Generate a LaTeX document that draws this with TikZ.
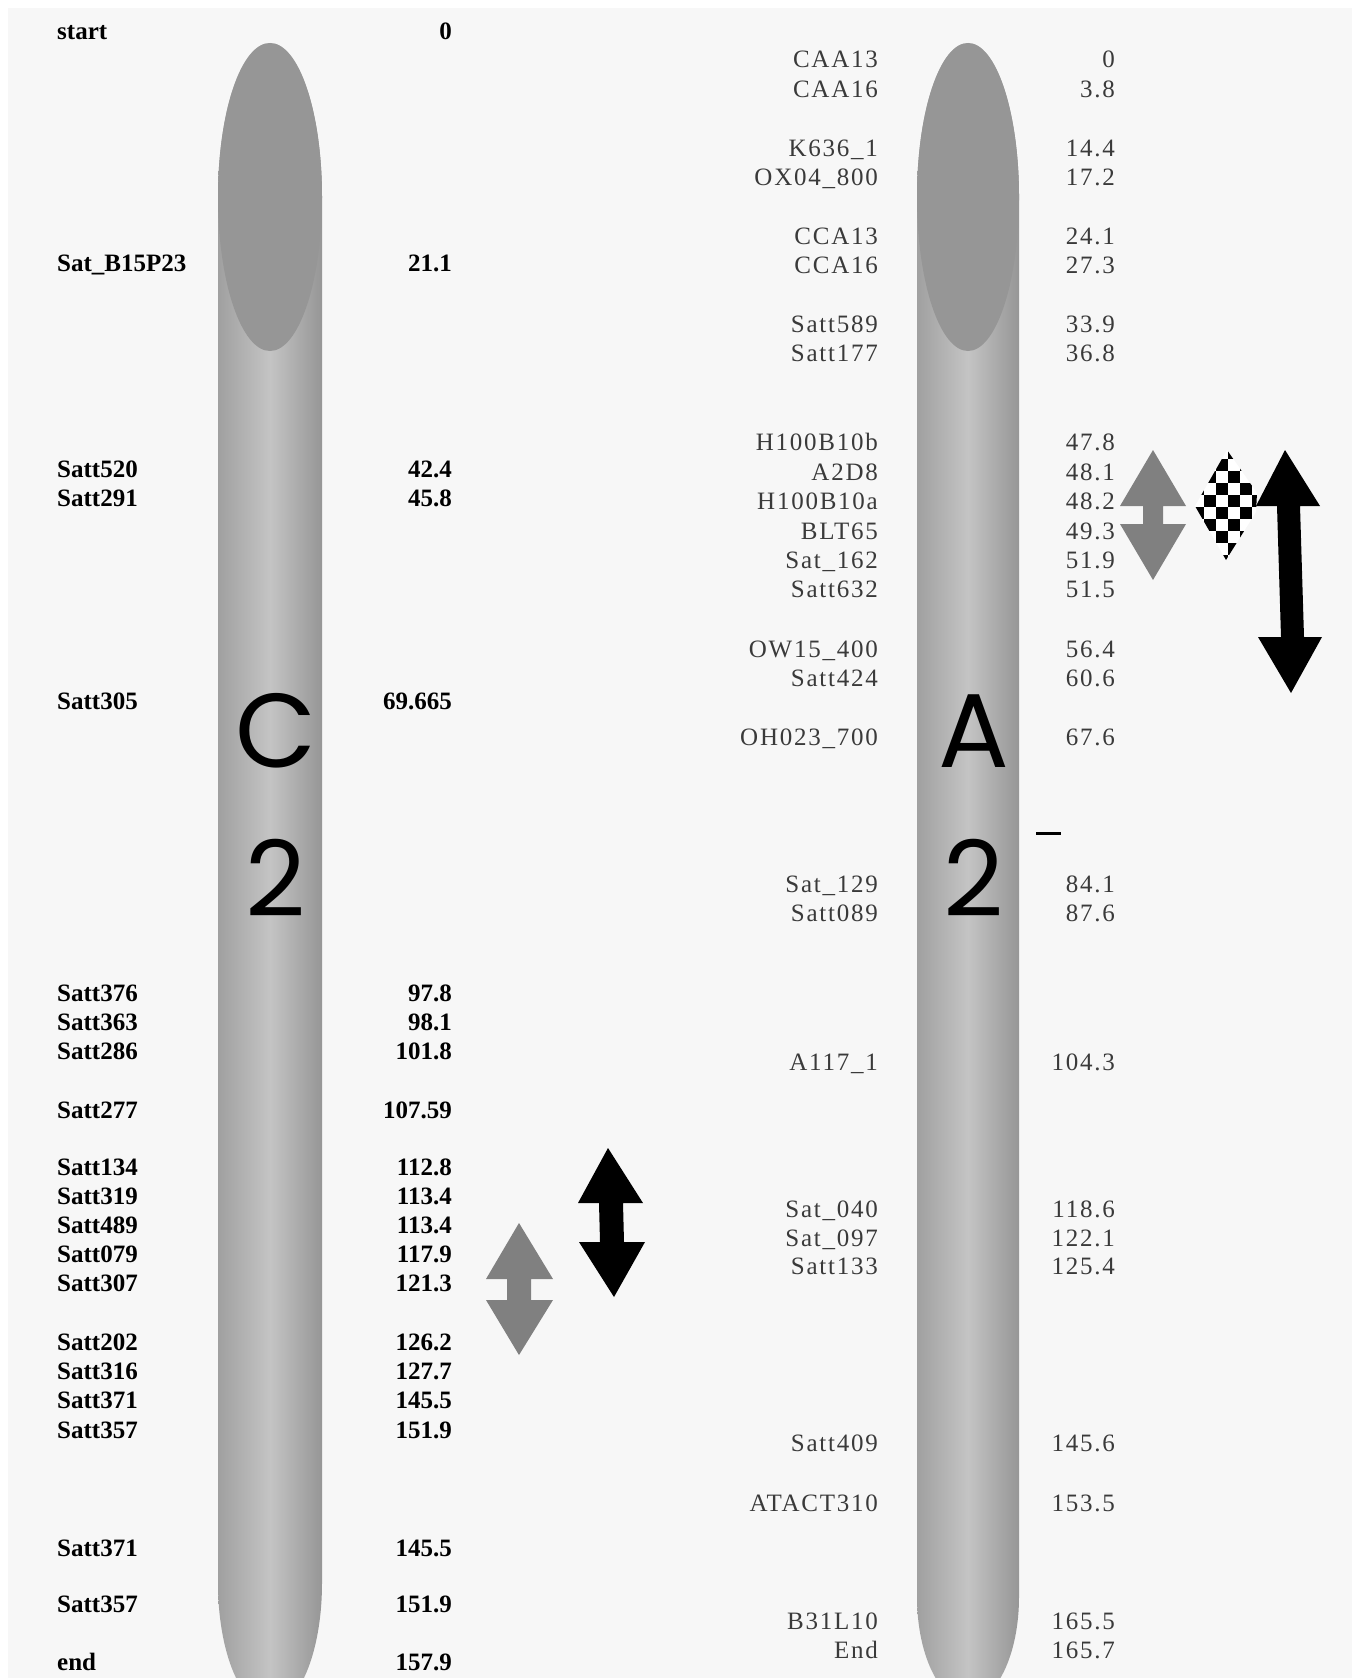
\documentclass[tikz,border=0pt]{standalone}
\usepackage{fontspec}
\setmainfont{Liberation Serif}
\newfontfamily\mapfont[LetterSpace=7]{Liberation Serif}
\newfontfamily\chrfont{Poppins}
\definecolor{pagebg}{RGB}{247,247,247}
\definecolor{rtext}{RGB}{58,58,58}
\definecolor{chredge}{RGB}{160,160,160}
\definecolor{chredgeR}{RGB}{150,150,150}
\definecolor{chrmid}{RGB}{196,196,196}
\definecolor{chrcap}{RGB}{150,150,150}
\definecolor{qtlgray}{RGB}{128,128,128}
\begin{document}
\begin{tikzpicture}[x=1pt,y=-1pt,
  lname/.style={anchor=base west,inner sep=0,font=\fontsize{25}{25}\selectfont\bfseries},
  lval/.style={anchor=base east,inner sep=0,font=\fontsize{25}{25}\selectfont\bfseries},
  rname/.style={anchor=base east,inner sep=0,text=rtext,font=\mapfont\fontsize{25}{25}\selectfont},
  rval/.style={anchor=base east,inner sep=0,text=rtext,font=\mapfont\fontsize{25}{25}\selectfont},
  chrlabel/.style={inner sep=0,font=\chrfont\fontsize{105}{105}\selectfont},
  chrbody/.style={left color=chredge,right color=chredgeR,middle color=chrmid}]

\useasboundingbox (0,0) rectangle (1352,1678);
\clip (0,0) rectangle (1352,1678);

% page background
\fill[white] (0,0) rectangle (1352,1678);
\fill[pagebg] (8,8) rectangle (1352,1678);

% chromosome C2
\shade[chrbody] (218,1583) -- (218,197)
  .. controls (218,112) and (241,43) .. (270,43)
  .. controls (299,43) and (322,112) .. (322,197) -- (322,1583)
  .. controls (322,1652) and (299,1708) .. (270,1708)
  .. controls (241,1708) and (218,1652) .. (218,1583) -- cycle;
\fill[chrcap] (270,197) ellipse [x radius=52,y radius=154];

% chromosome A2
\shade[chrbody] (917,1597) -- (917,197)
  .. controls (917,112) and (940,43) .. (968,43)
  .. controls (996,43) and (1019,112) .. (1019,197) -- (1019,1597)
  .. controls (1019,1655) and (996,1702) .. (968,1702)
  .. controls (940,1702) and (917,1655) .. (917,1597) -- cycle;
\fill[chrcap] (968,197) ellipse [x radius=51,y radius=154];

% chromosome names
\node[chrlabel] (c2a) at (276,731) {C};
\node[chrlabel] (c2b) at (276,878) {2};
\node[chrlabel] (a2a) at (974,731) {A};
\node[chrlabel] (a2b) at (974,878) {2};

% markers of C2
\foreach \y/\n/\v [count=\i] in {
  32/start/0, 263/Sat\_B15P23/21.1, 469/Satt520/42.4, 498/Satt291/45.8,
  701/Satt305/69.665, 993/Satt376/97.8, 1022/Satt363/98.1, 1051/Satt286/101.8,
  1110/Satt277/107.59, 1167/Satt134/112.8, 1196/Satt319/113.4, 1225/Satt489/113.4,
  1254/Satt079/117.9, 1283/Satt307/121.3, 1342/Satt202/126.2, 1371/Satt316/127.7,
  1400/Satt371/145.5, 1430/Satt357/151.9, 1548/Satt371/145.5, 1604/Satt357/151.9,
  1662/end/157.9}
{
  \node[lname] (cn\i) at (57,\y+8) {\n};
  \node[lval] (cv\i) at (452,\y+8) {\v};
}

% markers of A2
\foreach \y/\n/\v [count=\i] in {
  59/CAA13/0, 89/CAA16/3.8, 148/K636\_1/14.4, 177/OX04\_800/17.2,
  236/CCA13/24.1, 265/CCA16/27.3, 324/Satt589/33.9, 353/Satt177/36.8,
  442/H100B10b/47.8, 472/A2D8/48.1, 501/H100B10a/48.2, 531/BLT65/49.3,
  560/Sat\_162/51.9, 589/Satt632/51.5, 649/OW15\_400/56.4, 678/Satt424/60.6,
  737/OH023\_700/67.6, 884/Sat\_129/84.1, 913/Satt089/87.6, 1062/A117\_1/104.3,
  1209/Sat\_040/118.6, 1238/Sat\_097/122.1, 1266/Satt133/125.4, 1443/Satt409/145.6,
  1503/ATACT310/153.5, 1621/B31L10/165.5, 1650/End/165.7}
{
  \node[rname] (an\i) at (878,\y+8) {\n};
  \node[rval] (av\i) at (1115,\y+8) {\v};
}

% small tick beside A2
\draw[line width=3] (1036,833) -- (1061,833);

% QTL intervals on C2
\fill[qtlgray] (519,1223) -- (553,1279) -- (531,1279) -- (531,1300) -- (553,1300)
  -- (519,1355) -- (486,1300) -- (507,1300) -- (507,1279) -- (486,1279) -- cycle;
\fill[black] (608,1148) -- (643,1203) -- (623,1203) -- (624,1242) -- (645,1242)
  -- (614,1297) -- (579,1242) -- (600,1242) -- (599,1203) -- (578,1203) -- cycle;

% QTL intervals on A2
\fill[qtlgray] (1153,450) -- (1186,506) -- (1163,506) -- (1163,524) -- (1186,524)
  -- (1153,580) -- (1120,524) -- (1143,524) -- (1143,506) -- (1120,506) -- cycle;
\begin{scope}
  \clip (1227,450) -- (1257,493) -- (1256,512) -- (1226,560) -- (1195,506) -- cycle;
  \fill[white] (1190,445) rectangle (1262,565);
  \foreach \i in {0,...,5} \foreach \j in {0,...,9} {
    \pgfmathtruncatemacro\k{mod(\i+\j,2)}
    \ifnum\k=1 \fill[black] (1192+12*\i,447+12*\j) rectangle ++(12,12); \fi
  }
\end{scope}
\fill[black] (1285,450) -- (1320,506) -- (1300,506) -- (1304,637) -- (1322,637)
  -- (1291,693) -- (1258,637) -- (1281,637) -- (1277,506) -- (1256,506) -- cycle;
\end{tikzpicture}
\end{document}
